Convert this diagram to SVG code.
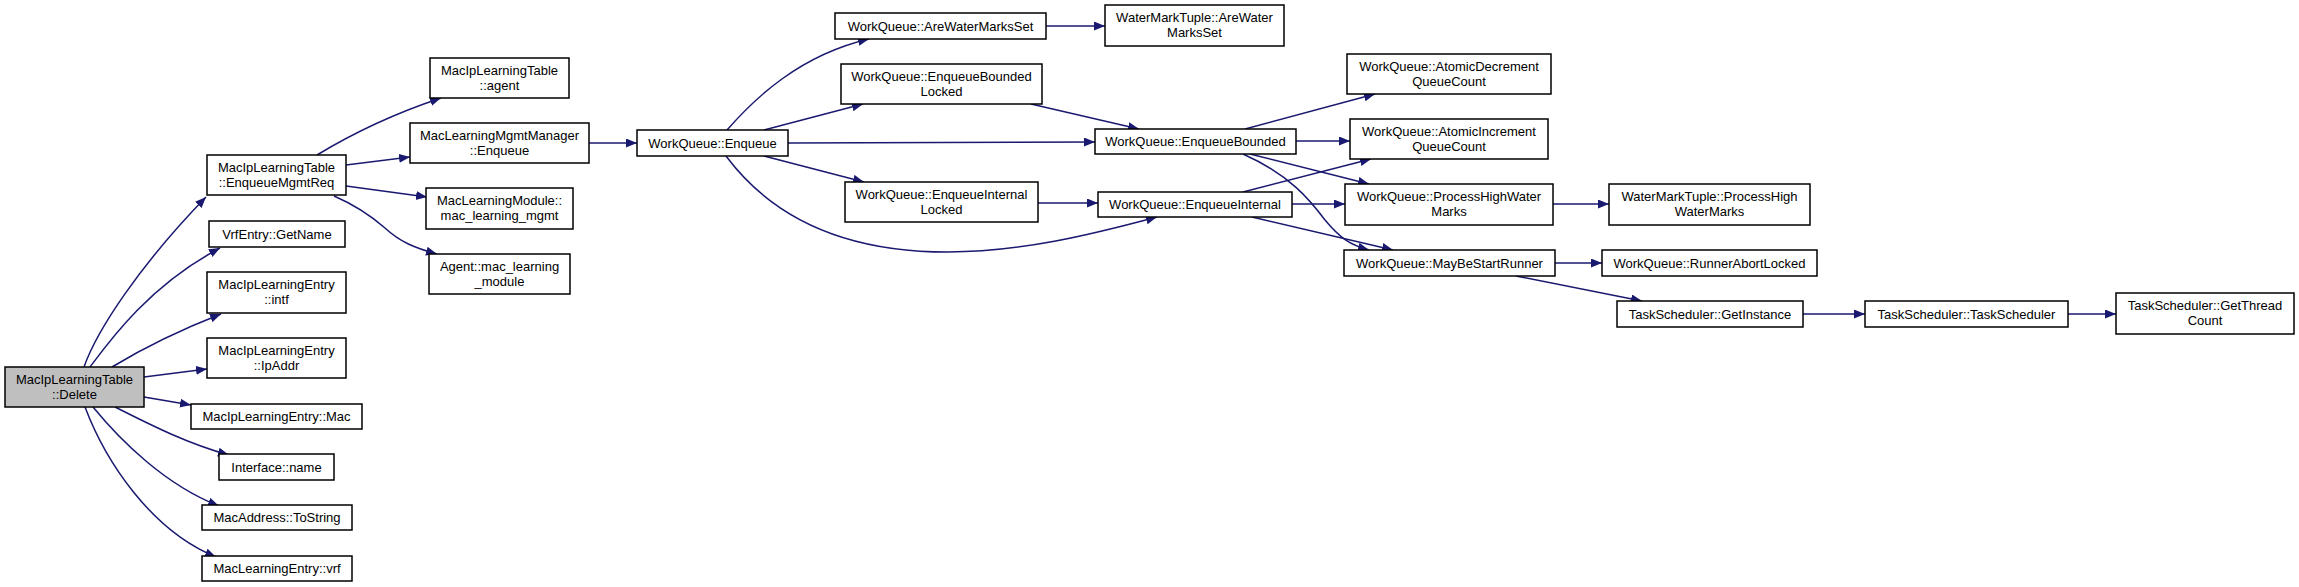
<svg xmlns="http://www.w3.org/2000/svg" width="2299" height="587" viewBox="0 0 2299 587">
<style>
.n rect{fill:#fff;stroke:#000;stroke-width:1.5}
.n.root rect{fill:#bfbfbf}
.n text{font-family:"Liberation Sans",Arial,sans-serif;font-size:13px;text-anchor:middle;fill:#000}
.e path{fill:none;stroke:#191970;stroke-width:1.5;marker-end:url(#ah)}
</style>
<defs>
<marker id="ah" markerUnits="userSpaceOnUse" markerWidth="12" markerHeight="10" refX="11" refY="4.5" orient="auto"><path d="M0,0 L11,4.5 L0,9 z" fill="#191970"/></marker>
</defs>
<rect width="2299" height="587" fill="#fff"/>
<g id="edges" class="e">
<path d="M84,367 C97,330 140,265 206,197"/>
<path d="M90,367 C110,340 150,285 220,248"/>
<path d="M112,367 C140,350 180,330 221,314"/>
<path d="M144,377 L207,369"/>
<path d="M144,397 L191,405"/>
<path d="M115,407 C145,422 185,443 229,455"/>
<path d="M93,407 C120,440 165,485 219,506"/>
<path d="M85,407 C105,460 150,530 216,557"/>
<path d="M317,155 C345,138 390,115 441,98"/>
<path d="M346,165 L410,157"/>
<path d="M346,186 L427,197"/>
<path d="M334,196 C355,205 370,215 385,228 C400,242 415,248 437,254"/>
<path d="M589,143 L637,143"/>
<path d="M727,130 C755,98 800,55 869,39"/>
<path d="M764,130 L863,104"/>
<path d="M788,143 L1095,142"/>
<path d="M764,156 L864,182"/>
<path d="M726,156 C770,215 840,252 948,252 C1020,252 1090,235 1157,217"/>
<path d="M1046,26 L1105,26"/>
<path d="M1031,104 L1139,129"/>
<path d="M1038,203 L1098,203"/>
<path d="M1245,129 L1375,94"/>
<path d="M1296,141 L1350,141"/>
<path d="M1250,154 L1369,184"/>
<path d="M1243,154 C1290,175 1310,200 1325,220 C1340,238 1350,245 1369,250"/>
<path d="M1243,192 L1371,159"/>
<path d="M1292,204 L1345,204"/>
<path d="M1252,217 L1393,250"/>
<path d="M1553,204 L1609,204"/>
<path d="M1555,263 L1602,263"/>
<path d="M1516,276 L1642,301"/>
<path d="M1803,314 L1865,314"/>
<path d="M2068,314 L2116,314"/>
</g>
<g id="n_delete" class="n root"><rect x="5" y="367" width="139" height="40"/><text x="74.5" y="383.5">MacIpLearningTable</text><text x="74.5" y="398.5">::Delete</text></g>
<g id="n_enqueuemgmtreq" class="n"><rect x="207" y="155" width="139" height="40"/><text x="276.5" y="171.5">MacIpLearningTable</text><text x="276.5" y="186.5">::EnqueueMgmtReq</text></g>
<g id="n_getname" class="n"><rect x="209" y="221" width="136" height="26"/><text x="277" y="238.5">VrfEntry::GetName</text></g>
<g id="n_intf" class="n"><rect x="207" y="272" width="139" height="41"/><text x="276.5" y="288.5">MacIpLearningEntry</text><text x="276.5" y="303.5">::intf</text></g>
<g id="n_ipaddr" class="n"><rect x="207" y="338" width="139" height="40"/><text x="276.5" y="354.5">MacIpLearningEntry</text><text x="276.5" y="369.5">::IpAddr</text></g>
<g id="n_mac" class="n"><rect x="191" y="404" width="171" height="25"/><text x="276.5" y="421">MacIpLearningEntry::Mac</text></g>
<g id="n_ifname" class="n"><rect x="219" y="454" width="115" height="26"/><text x="276.5" y="471.5">Interface::name</text></g>
<g id="n_tostring" class="n"><rect x="202" y="505" width="150" height="25"/><text x="277" y="522">MacAddress::ToString</text></g>
<g id="n_vrf" class="n"><rect x="202" y="556" width="150" height="25"/><text x="277" y="573">MacLearningEntry::vrf</text></g>
<g id="n_agent" class="n"><rect x="430" y="58" width="139" height="40"/><text x="499.5" y="74.5">MacIpLearningTable</text><text x="499.5" y="89.5">::agent</text></g>
<g id="n_mgmtenqueue" class="n"><rect x="410" y="123" width="179" height="40"/><text x="499.5" y="139.5">MacLearningMgmtManager</text><text x="499.5" y="154.5">::Enqueue</text></g>
<g id="n_mlmgmt" class="n"><rect x="426" y="188" width="147" height="41"/><text x="499.5" y="204.5">MacLearningModule::</text><text x="499.5" y="219.5">mac_learning_mgmt</text></g>
<g id="n_mlmodule" class="n"><rect x="429" y="254" width="141" height="40"/><text x="499.5" y="270.5">Agent::mac_learning</text><text x="499.5" y="285.5">_module</text></g>
<g id="n_wqenqueue" class="n"><rect x="637" y="130" width="151" height="26"/><text x="712.5" y="147.5">WorkQueue::Enqueue</text></g>
<g id="n_arewms" class="n"><rect x="835" y="13" width="211" height="26"/><text x="940.5" y="30.5">WorkQueue::AreWaterMarksSet</text></g>
<g id="n_wmtarewms" class="n"><rect x="1105" y="5" width="179" height="41"/><text x="1194.5" y="21.5">WaterMarkTuple::AreWater</text><text x="1194.5" y="36.5">MarksSet</text></g>
<g id="n_eblocked" class="n"><rect x="841" y="64" width="201" height="40"/><text x="941.5" y="80.5">WorkQueue::EnqueueBounded</text><text x="941.5" y="95.5">Locked</text></g>
<g id="n_ebounded" class="n"><rect x="1095" y="129" width="201" height="25"/><text x="1195.5" y="146">WorkQueue::EnqueueBounded</text></g>
<g id="n_eilocked" class="n"><rect x="845" y="182" width="193" height="40"/><text x="941.5" y="198.5">WorkQueue::EnqueueInternal</text><text x="941.5" y="213.5">Locked</text></g>
<g id="n_einternal" class="n"><rect x="1098" y="192" width="194" height="25"/><text x="1195" y="209">WorkQueue::EnqueueInternal</text></g>
<g id="n_atomicdec" class="n"><rect x="1347" y="54" width="204" height="40"/><text x="1449" y="70.5">WorkQueue::AtomicDecrement</text><text x="1449" y="85.5">QueueCount</text></g>
<g id="n_atomicinc" class="n"><rect x="1350" y="119" width="198" height="40"/><text x="1449" y="135.5">WorkQueue::AtomicIncrement</text><text x="1449" y="150.5">QueueCount</text></g>
<g id="n_processhwm" class="n"><rect x="1345" y="184" width="208" height="41"/><text x="1449" y="200.5">WorkQueue::ProcessHighWater</text><text x="1449" y="215.5">Marks</text></g>
<g id="n_maybestart" class="n"><rect x="1344" y="250" width="211" height="26"/><text x="1449.5" y="267.5">WorkQueue::MayBeStartRunner</text></g>
<g id="n_wmtprocesshwm" class="n"><rect x="1609" y="184" width="201" height="41"/><text x="1709.5" y="200.5">WaterMarkTuple::ProcessHigh</text><text x="1709.5" y="215.5">WaterMarks</text></g>
<g id="n_runnerabort" class="n"><rect x="1602" y="250" width="215" height="26"/><text x="1709.5" y="267.5">WorkQueue::RunnerAbortLocked</text></g>
<g id="n_getinstance" class="n"><rect x="1617" y="301" width="186" height="26"/><text x="1710" y="318.5">TaskScheduler::GetInstance</text></g>
<g id="n_taskscheduler" class="n"><rect x="1865" y="301" width="203" height="26"/><text x="1966.5" y="318.5">TaskScheduler::TaskScheduler</text></g>
<g id="n_getthreadcount" class="n"><rect x="2116" y="293" width="178" height="41"/><text x="2205" y="309.5">TaskScheduler::GetThread</text><text x="2205" y="324.5">Count</text></g>
</svg>
